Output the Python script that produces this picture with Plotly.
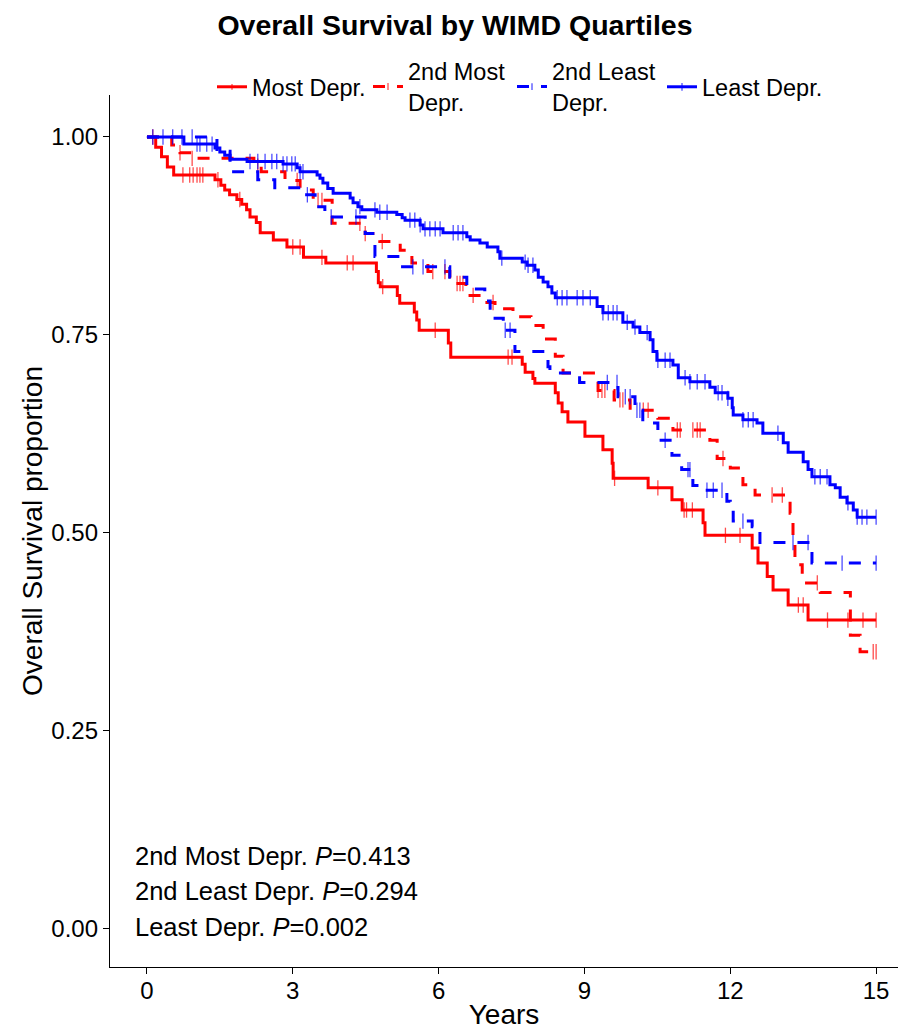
import plotly.graph_objects as go

# ---------------- data ----------------
groups = ["Most Depr.", "2nd Most<br>Depr.", "2nd Least<br>Depr.", "Least Depr."]
colors = ["#FF0000", "#FF0000", "#0000FF", "#0000FF"]
dashes = ["solid", "12px,12px", "12px,12px", "solid"]

# Most Depr.
most_event_t = [0.18, 0.3, 0.42, 0.55, 1.4, 1.52, 1.6, 1.7, 1.85, 1.95, 2.05, 2.12, 2.25, 2.33,
                2.6, 2.88, 3.22, 3.68, 4.72, 4.76, 4.8, 5.15, 5.2, 5.5, 5.55, 5.6, 6.2, 6.25,
                7.72, 7.78, 7.94, 7.98, 8.40, 8.46, 8.54, 8.66, 9.01, 9.38, 9.57, 9.59, 10.31,
                10.80, 11.01, 11.44, 11.48, 12.45, 12.57, 12.76, 12.88, 13.19, 13.60]
most_surv = [0.987, 0.975, 0.962, 0.952, 0.946, 0.939, 0.933, 0.927, 0.921, 0.915, 0.908, 0.899,
             0.892, 0.879, 0.870, 0.861, 0.848, 0.841, 0.830, 0.816, 0.811, 0.800, 0.790, 0.779,
             0.769, 0.756, 0.740, 0.722, 0.713, 0.703, 0.695, 0.689, 0.677, 0.664, 0.653, 0.640,
             0.622, 0.605, 0.588, 0.569, 0.557, 0.542, 0.529, 0.513, 0.497, 0.481, 0.462, 0.445,
             0.428, 0.409, 0.390]
most_censor_t = [0.12, 0.74, 0.88, 0.95, 1.03, 1.09, 1.15, 1.46, 1.91, 3.0, 3.15, 3.6, 4.12, 4.24,
                 4.85, 5.93, 7.43, 7.51, 9.62, 10.51, 11.05, 11.1, 11.22, 11.9, 12.2, 13.4, 13.5,
                 14.0, 14.42, 14.73, 15.0]

# 2nd Most Depr.
m2_event_t = [0.51, 0.68, 0.93, 2.2, 2.35, 2.84, 3.15, 3.42, 3.81, 4.49, 4.79, 5.21, 5.45, 5.78,
              6.23, 6.56, 6.91, 7.16, 7.53, 7.90, 8.15, 8.40, 8.56, 9.28, 9.61, 9.94, 10.51,
              10.82, 11.58, 11.73, 12.0, 12.26, 12.51, 13.23, 13.29, 13.33, 13.48, 13.85, 14.47,
              14.67]
m2_surv = [0.990, 0.980, 0.973, 0.963, 0.956, 0.945, 0.933, 0.920, 0.891, 0.878, 0.868, 0.857,
           0.841, 0.830, 0.815, 0.800, 0.791, 0.783, 0.773, 0.762, 0.745, 0.723, 0.702, 0.680,
           0.668, 0.655, 0.645, 0.630, 0.617, 0.594, 0.582, 0.561, 0.548, 0.525, 0.490, 0.460,
           0.437, 0.425, 0.371, 0.350]
m2_censor_t = [0.68, 0.93, 2.28, 3.09, 3.52, 3.6, 4.38, 4.49, 4.84, 5.88, 6.13, 6.38, 6.44, 6.5,
               6.71, 7.12, 9.28, 9.36, 9.42, 9.73, 9.79, 10.21, 10.31, 10.91, 10.97, 11.23, 11.32,
               11.38, 11.85, 12.86, 13.07, 13.79, 14.94, 15.0]

# 2nd Least Depr.
l2_event_t = [1.44, 1.71, 2.28, 2.63, 3.25, 3.46, 3.66, 4.49, 4.69, 5.21, 6.23, 6.58, 6.95, 7.06,
              7.33, 7.57, 8.25, 8.29, 8.90, 9.69, 10.04, 10.20, 10.51, 10.80, 11.00, 11.23,
              11.38, 11.93, 12.0, 12.06, 12.45, 12.61, 13.68]
l2_surv = [0.982, 0.956, 0.946, 0.936, 0.927, 0.912, 0.899, 0.878, 0.849, 0.836, 0.823, 0.808,
           0.793, 0.771, 0.756, 0.729, 0.710, 0.702, 0.690, 0.672, 0.655, 0.639, 0.617, 0.598,
           0.580, 0.560, 0.554, 0.540, 0.530, 0.515, 0.508, 0.488, 0.462]
l2_censor_t = [0.93, 3.3, 3.79, 4.3, 5.47, 5.68, 6.13, 7.37, 7.47, 9.47, 9.67, 9.84, 9.94, 10.08,
               10.14, 10.66, 11.13, 11.17, 11.52, 11.65, 11.83, 12.26, 13.29, 13.6, 14.3, 15.0]

# Least Depr.
least_event_t = [0.76, 1.40, 1.50, 1.60, 1.71, 2.06, 2.80, 3.09, 3.15, 3.50, 3.56, 3.62, 3.72,
                 3.83, 4.18, 4.24, 4.34, 4.42, 4.73, 5.14, 5.25, 5.31, 5.62, 5.68, 6.09, 6.58,
                 6.65, 6.85, 7.00, 7.22, 7.26, 7.72, 7.82, 7.98, 8.05, 8.15, 8.25, 8.33, 8.40,
                 9.26, 9.38, 9.79, 10.0, 10.14, 10.35, 10.41, 10.49, 10.82, 10.93, 11.17, 11.58,
                 11.69, 11.95, 12.04, 12.06, 12.26, 12.55, 12.67, 13.09, 13.19, 13.50, 13.60,
                 13.68, 14.05, 14.16, 14.26, 14.40, 14.53, 14.61]
least_surv = [0.991, 0.986, 0.981, 0.977, 0.972, 0.969, 0.966, 0.961, 0.956, 0.952, 0.948, 0.942,
              0.935, 0.929, 0.923, 0.917, 0.912, 0.908, 0.905, 0.902, 0.898, 0.895, 0.889, 0.884,
              0.879, 0.874, 0.870, 0.866, 0.861, 0.855, 0.847, 0.842, 0.838, 0.832, 0.823, 0.817,
              0.811, 0.803, 0.797, 0.786, 0.778, 0.766, 0.760, 0.753, 0.744, 0.729, 0.718, 0.712,
              0.696, 0.691, 0.684, 0.677, 0.670, 0.658, 0.649, 0.643, 0.639, 0.626, 0.614, 0.602,
              0.590, 0.580, 0.571, 0.561, 0.557, 0.545, 0.538, 0.529, 0.520]
least_censor_t = [0.12, 0.33, 0.53, 0.72, 1.03, 1.09, 1.23, 1.34, 2.12, 2.28, 2.43, 2.57, 2.67,
                  2.80, 2.88, 2.98, 3.05, 3.15, 3.21, 4.38, 4.69, 4.79, 4.94, 5.41, 5.51, 5.62,
                  5.72, 5.82, 5.93, 6.03, 6.30, 6.40, 6.50, 7.30, 7.78, 7.84, 7.94, 8.44, 8.54,
                  8.64, 8.85, 8.97, 9.12, 9.38, 9.49, 9.59, 9.67, 9.88, 10.04, 10.29, 10.51,
                  10.66, 10.76, 11.07, 11.17, 11.32, 11.48, 11.75, 11.83, 11.95, 12.26, 12.37,
                  12.47, 12.98, 13.74, 13.85, 13.99, 14.42, 14.61, 14.71, 14.81, 15.0]

event_times = [most_event_t, m2_event_t, l2_event_t, least_event_t]
survivals = [most_surv, m2_surv, l2_surv, least_surv]
censor_times = [most_censor_t, m2_censor_t, l2_censor_t, least_censor_t]

x_ticks = [0, 3, 6, 9, 12, 15]
y_ticks = [0.0, 0.25, 0.5, 0.75, 1.0]

pval_labels = ["2nd Most Depr.", "2nd Least Depr.", "Least Depr."]
pvals = ["0.413", "0.294", "0.002"]
pval_y = [0.092, 0.048, 0.003]

FONT = "Liberation Sans, Arial, Helvetica, sans-serif"

# figure geometry (page adds an 8px body margin)
W, H = 904, 1022
ML, MR, MT, MB = 102, 14, 87, 63
PW, PH = W - ML - MR, H - MT - MB
legend_key_px = [218, 374, 518, 668]   # screen x where each legend key starts
legend_center_px = 87                   # screen y of legend centre


def surv_at(t, ev, sv):
    s = 1.0
    for te, se in zip(ev, sv):
        if te <= t:
            s = se
        else:
            break
    return s


legend_ids = ["legend", "legend2", "legend3", "legend4"]
fig = go.Figure()
for name, col, dash, ev, sv, cens, lid in zip(groups, colors, dashes, event_times, survivals,
                                               censor_times, legend_ids):
    pts = [(0.0, 0)] + [(t, 0) for t in ev] + [(t, 1) for t in cens]
    pts.sort(key=lambda p: (p[0], p[1]))
    xs = [p[0] for p in pts]
    ys = [surv_at(p[0], ev, sv) for p in pts]
    sizes = [11 if p[1] else 0 for p in pts]
    fig.add_trace(go.Scatter(
        x=xs, y=ys, name=name, mode="lines+markers", legend=lid,
        line=dict(color=col, width=3, dash=dash, shape="hv"),
        marker=dict(symbol="line-ns-open", size=sizes, color=col,
                    line=dict(color=col, width=1.3)),
        hoverinfo="skip",
    ))

for lab, p, yy in zip(pval_labels, pvals, pval_y):
    fig.add_annotation(x=-0.29, y=yy, xref="x", yref="y", xanchor="left", yanchor="middle",
                       text=f"{lab} <i>P</i>={p}", showarrow=False,
                       font=dict(family=FONT, size=25.5, color="black"))

legend_common = dict(orientation="h", xanchor="left", yanchor="middle",
                     y=1 + (MT - (legend_center_px - 8)) / PH,
                     font=dict(family=FONT, size=23.5, color="black"), valign="middle",
                     itemwidth=30, bgcolor="rgba(0,0,0,0)")
legends = {}
for lid, kx in zip(legend_ids, legend_key_px):
    legends[lid] = dict(legend_common, x=(kx - 6 - 8 - ML) / PW)

fig.update_layout(
    width=W, height=H,
    margin=dict(l=ML, r=MR, t=MT, b=MB, autoexpand=False),
    paper_bgcolor="white", plot_bgcolor="white",
    font=dict(family=FONT, color="black"),
    title=dict(text="<b>Overall Survival by WIMD Quartiles</b>", x=(455 - 8) / W, xanchor="center",
               y=1 - 17 / H, yanchor="middle", yref="container",
               font=dict(family=FONT, size=28.5, color="black")),
    showlegend=True,
    **legends,
)
fig.update_xaxes(range=[-0.76, 15.45], tickvals=x_ticks, ticktext=[str(v) for v in x_ticks],
                 showline=True, linecolor="black", linewidth=1.3, ticks="outside", ticklen=6,
                 tickcolor="black", tickwidth=1.3, showgrid=False, zeroline=False, automargin=False,
                 ticklabelstandoff=-4,
                 tickfont=dict(family=FONT, size=24, color="black"),
                 title=dict(text="Years", font=dict(family=FONT, size=28, color="black"), standoff=2))
fig.update_yaxes(range=[-0.048, 1.053], tickvals=y_ticks, ticktext=[f"{v:.2f}" for v in y_ticks],
                 showline=True, linecolor="black", linewidth=1.3, ticks="outside", ticklen=6,
                 tickcolor="black", tickwidth=1.3, showgrid=False, zeroline=False, automargin=False,
                 tickfont=dict(family=FONT, size=24, color="black"),
                 title=dict(text="Overall Survival proportion", font=dict(family=FONT, size=28, color="black"),
                            standoff=0))

fig.write_html("out.html")
